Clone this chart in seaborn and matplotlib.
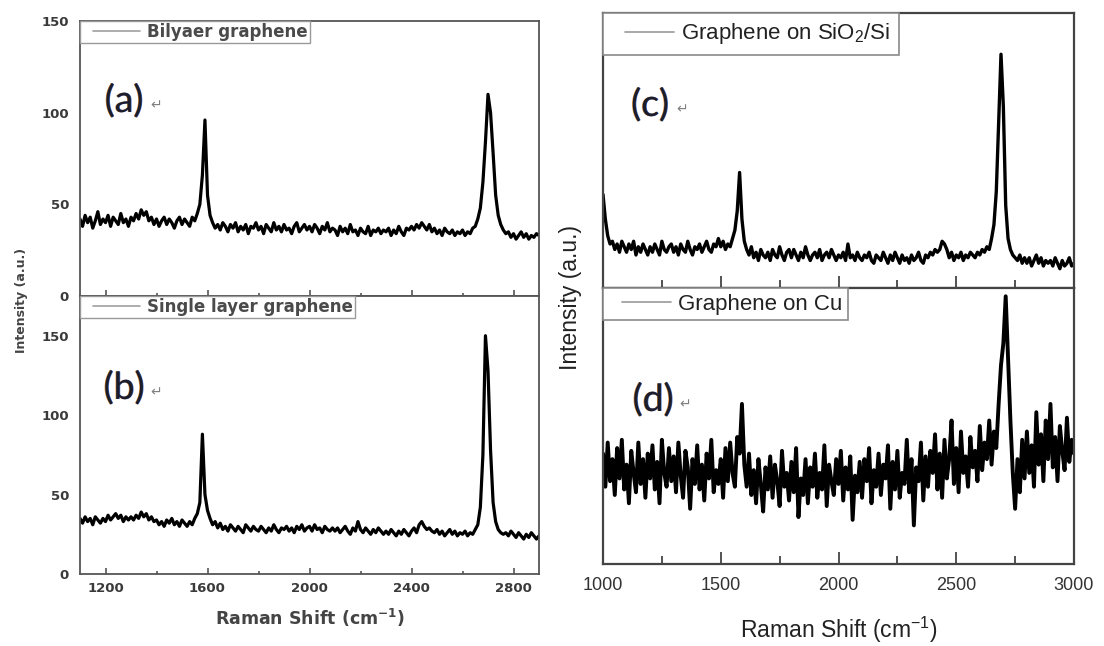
import numpy as np
import pandas as pd
import matplotlib
matplotlib.use("Agg")
import matplotlib.pyplot as plt
import matplotlib.patheffects as pe
import seaborn as sns
from matplotlib.legend_handler import HandlerLine2D
from matplotlib.lines import Line2D

# ---------------- data ----------------
x_left = np.arange(1100, 2901, 10)          # Raman shift, panels (a),(b)
y_bilayer = [
    42, 38, 44, 40, 43, 37, 41, 46, 39, 42,
    40, 44, 38, 43, 41, 39, 45, 40, 42, 38,
    43, 41, 45, 42, 47, 44, 46, 41, 43, 39,
    42, 38, 41, 43, 39, 42, 40, 37, 41, 43,
    39, 42, 40, 38, 43, 41, 45, 50, 66, 96,
    55, 44, 40, 37, 39, 36, 40, 38, 35, 39,
    37, 40, 35, 38, 36, 39, 34, 38, 37, 40,
    36, 38, 34, 39, 37, 35, 40, 36, 38, 35,
    39, 36, 37, 34, 38, 40, 35, 37, 39, 36,
    38, 35, 39, 37, 34, 38, 36, 40, 35, 37,
    36, 33, 38, 35, 37, 34, 39, 35, 36, 33,
    37, 35, 34, 38, 33, 36, 35, 37, 34, 36,
    35, 37, 33, 36, 34, 38, 35, 33, 37, 36,
    38, 36, 39, 37, 40, 38, 36, 39, 35, 37,
    34, 36, 33, 37, 35, 34, 36, 33, 35, 34,
    36, 33, 35, 34, 37, 38, 42, 48, 62, 84,
    110, 100, 78, 55, 44, 39, 36, 34, 35, 32,
    34, 31, 33, 35, 32, 34, 31, 33, 32, 34,
    33]
y_single = [
    35, 32, 36, 33, 35, 31, 36, 34, 32, 35,
    33, 37, 34, 36, 38, 35, 37, 33, 36, 34,
    36, 34, 37, 35, 39, 36, 38, 34, 36, 33,
    34, 31, 33, 30, 34, 32, 35, 31, 33, 30,
    34, 32, 30, 33, 31, 35, 38, 45, 88, 50,
    40, 35, 31, 33, 29, 32, 28, 30, 27, 31,
    29, 27, 30, 28, 26, 31, 29, 27, 30, 28,
    27, 30, 28, 26, 29, 27, 31, 28, 26, 29,
    28, 30, 27, 29, 26, 30, 28, 31, 27, 29,
    30, 27, 31, 28, 29, 26, 30, 28, 27, 29,
    27, 29, 26, 28, 30, 27, 25, 29, 27, 33,
    28, 26, 29, 27, 25, 28, 26, 29, 27, 25,
    27, 25, 28, 26, 24, 27, 25, 28, 26, 24,
    27, 29, 26, 31, 33, 30, 28, 29, 27, 26,
    28, 25, 27, 24, 26, 28, 25, 27, 24, 26,
    25, 27, 24, 26, 25, 28, 31, 42, 75, 150,
    128, 78, 45, 33, 28, 26, 25, 26, 24, 27,
    25, 23, 26, 24, 22, 25, 23, 26, 24, 22,
    24]

x_right = np.arange(1000, 3001, 10)         # Raman shift, panels (c),(d)
y_sio2 = [
    34, 25, 19, 16, 17, 14, 16, 13, 17, 15,
    13, 16, 14, 17, 12, 15, 13, 16, 14, 12,
    15, 13, 16, 14, 12, 17, 14, 13, 15, 16,
    13, 15, 12, 16, 14, 13, 17, 14, 12, 15,
    14, 16, 13, 15, 17, 14, 13, 16, 15, 18,
    15, 17, 14, 16, 15, 18, 21, 28, 42, 25,
    17, 14, 12, 15, 11, 13, 10, 14, 12, 11,
    13, 10, 14, 12, 11, 15, 12, 10, 13, 14,
    11, 14, 12, 10, 13, 11, 15, 12, 10, 12,
    13, 11, 14, 10, 12, 13, 11, 14, 12, 10,
    12, 11, 13, 10, 16, 11, 12, 10, 13, 11,
    10, 12, 11, 13, 10, 9, 12, 11, 10, 13,
    11, 9, 12, 10, 13, 11, 9, 12, 10, 11,
    9, 12, 10, 11, 13, 10, 9, 12, 11, 13,
    12, 14, 13, 14, 17, 16, 14, 11, 13, 10,
    12, 11, 13, 10, 12, 11, 13, 12, 11, 13,
    12, 14, 13, 15, 14, 18, 23, 35, 60, 85,
    66, 30, 18, 14, 12, 11, 10, 12, 9, 11,
    9, 11, 8, 10, 12, 9, 11, 8, 10, 9,
    10, 8, 11, 9, 7, 10, 8, 9, 11, 8,
    9]
y_cu = [
    40, 28, 44, 30, 38, 25, 42, 31, 45, 27,
    36, 22, 41, 33, 26, 44, 29, 38, 24, 40,
    31, 43, 27, 37, 22, 45, 33, 28, 42, 30,
    39, 26, 44, 32, 24, 41, 35, 20, 38, 29,
    43, 27, 36, 23, 40, 31, 45, 26, 34, 29,
    38, 24, 42, 30, 44, 33, 28, 46, 40, 58,
    36, 28, 40, 25, 34, 22, 38, 29, 19, 35,
    27, 39, 24, 36, 30, 21, 41, 28, 33, 23,
    37, 26, 42, 17, 31, 25, 38, 22, 35, 28,
    40, 24, 33, 27, 43, 21, 36, 30, 25, 38,
    29, 41, 23, 35, 27, 39, 16, 32, 26, 37,
    24, 38, 30, 42, 22, 34, 28, 40, 25, 36,
    31, 43, 20, 37, 27, 41, 24, 33, 29, 45,
    26, 38, 14, 35, 30, 44, 23, 39, 28, 41,
    33, 47, 27, 40, 24, 45, 31, 38, 52, 29,
    42, 26, 48, 33, 39, 28, 46, 35, 41, 30,
    50, 34, 44, 38, 52, 36, 48, 42, 58, 72,
    80, 97, 75, 52, 33, 20, 38, 26, 45, 31,
    48, 33, 43, 28, 55, 36, 47, 30, 52, 38,
    58, 35, 46, 30, 50, 41, 34, 53, 37, 45,
    40]

labels_left = ["Bilyaer graphene", "Single layer graphene"]
labels_right = ["Graphene on SiO$_2$/Si", "Graphene on Cu"]
panel_tags = ["(a)", "(b)", "(c)", "(d)"]
left_xticks = [1200, 1600, 2000, 2400, 2800]
left_yticks = [0, 50, 100, 150]
right_xticks = [1000, 1500, 2000, 2500, 3000]

# ---------------- style ----------------
sns.set_theme(style="ticks")
plt.rcParams["font.family"] = ["DejaVu Sans"]
plt.rcParams["mathtext.default"] = "regular"

W, H = 1104, 646
fig = plt.figure(figsize=(W / 100, H / 100), dpi=100)
fig.patch.set_facecolor("white")


def frac(l, t, r, b):
    return [l / W, 1 - b / H, (r - l) / W, (b - t) / H]


ax_a = fig.add_axes(frac(80, 21, 539, 296))
ax_b = fig.add_axes(frac(80, 296, 539, 574))
ax_c = fig.add_axes(frac(603, 13, 1074, 288))
ax_d = fig.add_axes(frac(603, 288, 1074, 564))


def draw(ax, x, y, label, lw):
    df = pd.DataFrame({"shift": x, "intensity": y})
    sns.lineplot(data=df, x="shift", y="intensity", ax=ax, color="black",
                 lw=lw, label=label, estimator=None, sort=False)
    ax.set_xlabel("")
    ax.set_ylabel("")


draw(ax_a, x_left, y_bilayer, labels_left[0], 2.3)
draw(ax_b, x_left, y_single, labels_left[1], 2.3)
draw(ax_c, x_right, y_sio2, labels_right[0], 2.4)
draw(ax_d, x_right, y_cu, labels_right[1], 2.8)

# ----- left panels -----
for ax, ylim in [(ax_a, (0, 150)), (ax_b, (0, 175))]:
    ax.set_xlim(1100, 2900)
    ax.set_ylim(*ylim)
    ax.set_xticks(left_xticks)
    ax.set_xticks([1400, 1800, 2200, 2600], minor=True)
    ax.set_yticks(left_yticks)
    for s in ax.spines.values():
        s.set_visible(True)
        s.set_color("#555555")
        s.set_linewidth(1.3)
    ax.tick_params(axis="x", which="major", direction="in", length=4,
                   width=1.2, color="#555555", labelsize=9.5,
                   labelcolor="#3a3a3a", pad=6)
    ax.tick_params(axis="x", which="minor", direction="in", length=2,
                   width=1.2, color="#555555")
    ax.tick_params(axis="y", length=0, labelsize=9.5, labelcolor="#3a3a3a",
                   pad=8)
    for t in ax.get_xticklabels() + ax.get_yticklabels():
        t.set_fontweight("bold")
    leg = ax.legend(loc="upper left", bbox_to_anchor=(0, 1), borderaxespad=0,
                    fancybox=False, framealpha=1, edgecolor="#9a9a9a",
                    prop={"family": "DejaVu Sans", "weight": "bold",
                          "size": 12},
                    borderpad=0.12, handlelength=3.5, handletextpad=0.42,
                    handler_map={Line2D: HandlerLine2D(xpad=0.68)})
    leg.get_frame().set_linewidth(1.0)
    for t in leg.get_texts():
        t.set_color("#4a4a4a")
    for ln in leg.get_lines():
        ln.set_color("#a0a0a0")
        ln.set_linewidth(1.2)
ax_a.tick_params(axis="x", labelbottom=False)

# ----- right panels -----
for ax, bp in [(ax_c, 0.38), (ax_d, 0.25)]:
    ax.set_xlim(1000, 3000)
    ax.set_ylim(0, 100)
    ax.set_xticks(right_xticks)
    ax.set_xticks([1250, 1750, 2250, 2750], minor=True)
    ax.set_yticks([])
    for s in ax.spines.values():
        s.set_visible(True)
        s.set_color("#444444")
        s.set_linewidth(1.6)
    ax.tick_params(axis="x", which="major", direction="in", length=9,
                   width=1.3, color="#444444", labelsize=13,
                   labelcolor="#333333", pad=9,
                   labelfontfamily="Liberation Sans")
    ax.tick_params(axis="x", which="minor", direction="in", length=6,
                   width=1.3, color="#444444")
    leg = ax.legend(loc="upper left", bbox_to_anchor=(0, 1), borderaxespad=0,
                    fancybox=False, framealpha=1, edgecolor="#8a8a8a",
                    prop={"family": "Liberation Sans", "size": 16},
                    borderpad=bp, handlelength=2.8, handletextpad=0.33,
                    handler_map={Line2D: HandlerLine2D(xpad=0.6)})
    leg.get_frame().set_linewidth(1.2)
    for t in leg.get_texts():
        t.set_color("#222222")
    for ln in leg.get_lines():
        ln.set_color("#9a9a9a")
        ln.set_linewidth(1.2)
ax_c.tick_params(axis="x", labelbottom=False)

# ----- axis titles -----
fig.text(22 / W, 1 - 300 / H, "Intensity (a.u.)", rotation=90, ha="center",
         va="center", fontsize=9, fontweight="bold", color="#444444")
fig.text(310 / W, 1 - 618 / H, "Raman Shift (cm$^{-1}$)", ha="center",
         va="center", fontsize=12.5, fontweight="bold", color="#444444")
fig.text(571 / W, 1 - 297 / H, "Intensity (a.u.)", rotation=90, ha="center",
         va="center", fontsize=16.5, family="Liberation Sans", color="#222222")
fig.text(839 / W, 1 - 630 / H, "Raman Shift (cm$^{-1}$)", ha="center",
         va="center", fontsize=16.5, family="Liberation Sans", color="#222222")


# ----- panel tags (a)-(d), with the colour fringe of the original -----
def panel_label(xc, yc, s):
    t = fig.text(xc / W, 1 - yc / H, s, fontsize=27, family="Lato",
                 fontweight="normal", color="#1c1c2a", ha="center",
                 va="center")
    t.set_path_effects([
        pe.PathPatchEffect(offset=(-0.45, 0), facecolor="#e08a2a",
                           edgecolor="none"),
        pe.PathPatchEffect(offset=(0.45, 0), facecolor="#3a6fd0",
                           edgecolor="none"),
        pe.PathPatchEffect(offset=(0, 0), facecolor="#1c1c2a",
                           edgecolor="none"),
    ])
    fig.text((xc + 26) / W, 1 - (yc + 4) / H, "\u21b5", fontsize=10,
             family="DejaVu Sans", color="#808080", ha="left", va="center")


panel_label(124, 101, panel_tags[0])
panel_label(124, 388, panel_tags[1])
panel_label(650, 105, panel_tags[2])
panel_label(653, 400, panel_tags[3])

fig.savefig("out.png", dpi=100, facecolor="white")
